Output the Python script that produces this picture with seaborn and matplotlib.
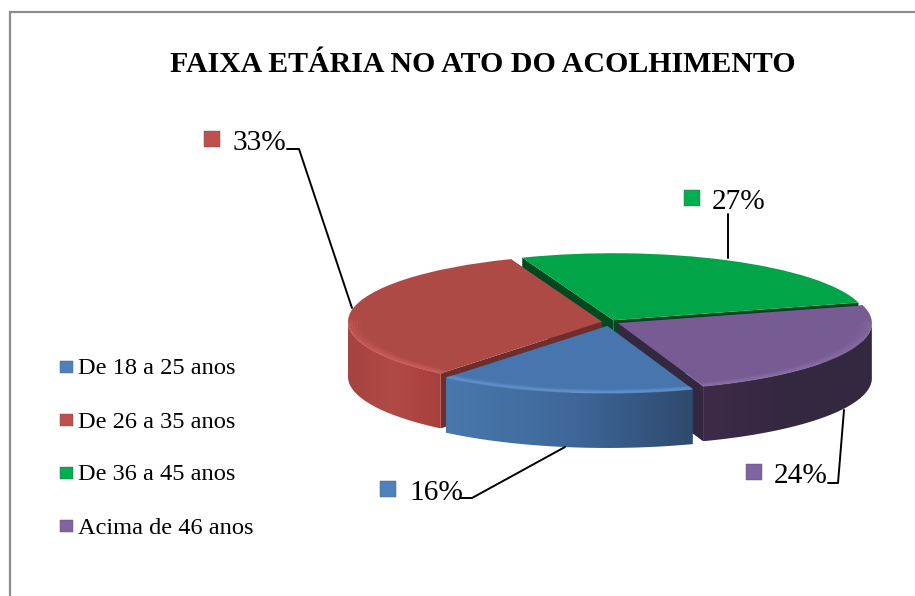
import numpy as np
import matplotlib
matplotlib.use("Agg")
import matplotlib.pyplot as plt
from matplotlib.patches import Polygon
import seaborn as sns

title = "FAIXA ETÁRIA NO ATO DO ACOLHIMENTO"
categories = ["De 18 a 25 anos", "De 26 a 35 anos", "De 36 a 45 anos", "Acima de 46 anos"]
values = [16.4, 33.2, 26.6, 23.8]
labels = ["16%", "33%", "27%", "24%"]

top_colors = ["#4776ae", "#ae4a46", "#02a448", "#775c93"]
key_colors = ["#4f81bd", "#c0504d", "#00b050", "#8064a2"]
side_colors = ["#2f4e74", "#6f2d2b", "#00491f", "#332840"]
rim_colors = ["#6493cf", "#cc5f5a", "#02a448", "#8a6fa8"]
wall_ramps = [["#4878ad", "#3f689a", "#2e4a6e"],
              ["#a54340", "#b04a46", "#a8403d"],
              ["#00491f", "#00491f"],
              ["#3f2b49", "#332840", "#332840"]]
explode = [0.06, 0.032, 0.03, 0.035]

W, H = 915, 596
CX, CY, RX, RY, DEPTH = 610, 322, 254, 67, 55

sns.set_theme(style="white")
plt.rcParams["font.family"] = ["Liberation Serif", "DejaVu Serif"]

fig = plt.figure(figsize=(W / 100, H / 100), dpi=100)
ax = fig.add_axes([0, 0, 1, 1])

# pie in its own squashed units, the axes covers the whole figure
wedges, _ = ax.pie(values, colors=top_colors, explode=explode, startangle=289.6,
                   counterclock=False, radius=1, wedgeprops={"linewidth": 0})
xlim = ((0 - CX) / RX, (W - CX) / RX)
ylim = ((CY - H) / RY, CY / RY)
depth = DEPTH / RY


def arc(w, r=1.0):
    t = np.radians(np.linspace(w.theta1, w.theta2, 200))
    t = t[np.sin(t) <= 0.02]
    cx, cy = w.center
    return cx + r * np.cos(t), cy + r * np.sin(t)


# back to front: green, red, purple, blue
for n, i in enumerate([2, 1, 3, 0]):
    w = wedges[i]
    z = 10 + n * 10
    w.set_zorder(z)
    cx, cy = w.center
    for th in (w.theta1, w.theta2):
        ex, ey = cx + np.cos(np.radians(th)), cy + np.sin(np.radians(th))
        ax.add_patch(Polygon([(cx, cy), (ex, ey), (ex, ey - depth), (cx, cy - depth)],
                             fc=side_colors[i], ec="none", zorder=z - 2))
    x, y = arc(w)
    if len(x) > 1:
        pts = np.r_[np.c_[x, y], np.c_[x, y - depth][::-1]]
        poly = Polygon(pts, fc="none", ec="none", zorder=z - 1)
        ax.add_patch(poly)
        cmap = sns.blend_palette(wall_ramps[i], as_cmap=True)
        im = ax.imshow(np.linspace(0, 1, 256)[None, :], cmap=cmap, aspect="auto",
                       extent=(x.min(), x.max(), y.min() - depth, y.max()), zorder=z - 1)
        im.set_clip_path(poly)
        # light bevel along the front rim of the top face
        for r, a in zip([0.995, 0.985, 0.975, 0.965, 0.955], [0.7, 0.55, 0.4, 0.25, 0.12]):
            rx, ry = arc(w, r)
            ax.plot(rx, ry, color=rim_colors[i], lw=1.3, alpha=a, zorder=z + 1,
                    solid_capstyle="butt")

ax.set_aspect("auto")
ax.set_xlim(xlim)
ax.set_ylim(ylim)
ax.axis("off")

# overlay in pixel units for text, keys and leader lines
ov = fig.add_axes([0, 0, 1, 1], facecolor="none")
ov.set_xlim(0, W)
ov.set_ylim(H, 0)
ov.axis("off")

ov.plot([9.5, 9.5, W], [H, 11.5, 11.5], color="#8c8c8c", lw=1.6, solid_joinstyle="miter")
ov.text(483, 64, title, fontsize=21.5, fontweight="bold", ha="center", va="center", color="black")

legend_y = [367, 420, 473, 526]
sns.scatterplot(x=[66.5] * 4, y=legend_y, hue=categories, palette=key_colors, marker="s", s=85,
                edgecolor="#555555", linewidth=0.3, legend=False, ax=ov)
for name, yy in zip(categories, legend_y):
    ov.text(78, yy + 2, name, fontsize=17.6, va="center", ha="left", color="black")

label_x = [409, 233, 712, 774]
label_y = [493, 143, 202, 476]
key_x = [388, 212, 692, 754]
key_y = [489, 139, 198, 472]
sns.scatterplot(x=key_x, y=key_y, hue=categories, palette=key_colors, marker="s", s=125,
                edgecolor="#555555", linewidth=0.3, legend=False, ax=ov)
for s, xx, yy in zip(labels, label_x, label_y):
    ov.text(xx, yy, s, fontsize=21.2, va="center", ha="left", color="black")

leaders = [([460, 472, 565], [498, 498, 447]),
           ([287, 299, 352], [149, 149, 308]),
           ([728, 728], [214, 258]),
           ([828, 838, 844], [483, 483, 410])]
for lx, ly in leaders:
    ov.plot(lx, ly, color="black", lw=1.4)

ov.set_xlim(0, W)
ov.set_ylim(H, 0)
fig.savefig("out.png", dpi=100, facecolor="white")
